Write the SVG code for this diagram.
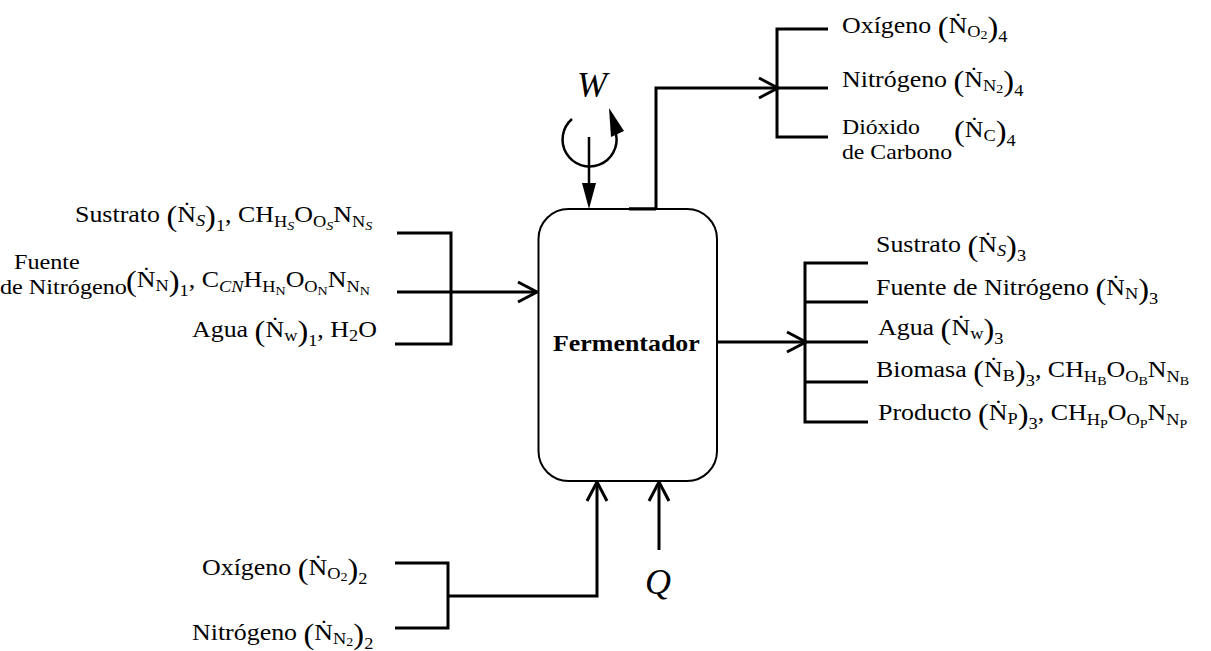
<svg xmlns="http://www.w3.org/2000/svg" width="1211" height="651" viewBox="0 0 1211 651">
<defs>
<style>
text{font-family:"Liberation Serif","DejaVu Serif",serif;fill:#000}
.t{font-size:24px}
.t2{font-size:22px}
.s{font-size:17px}
.ss{font-size:13px}
.p{font-size:30px}
.i{font-style:italic}
.b{font-weight:bold}
.big{font-size:36px;font-style:italic}
.ln{fill:none;stroke:#000;stroke-width:3}
.arr{marker-end:url(#chev)}
.box{fill:#fff;stroke:#000;stroke-width:2}
.thin{fill:none;stroke:#000;stroke-width:2.5}
</style>
<marker id="chev" viewBox="0 0 24 22" refX="21" refY="11" markerWidth="24" markerHeight="22" markerUnits="userSpaceOnUse" orient="auto" overflow="visible">
<path d="M2,1 L21,11 L2,21" fill="none" stroke="#000" stroke-width="3"/>
</marker>
</defs>
<rect width="1211" height="651" fill="#fff"/>

<g id="connectors">
<path class="ln" d="M397,233 H451 V344 H395"/>
<path class="ln arr" d="M397,292 H537"/>
<path class="ln arr" d="M717,342 H806"/>
<path class="ln" d="M868,263 H805 V422 H868 M805,302 H868 M805,342 H868 M805,382 H868"/>
<path class="ln arr" d="M629,209 H656 V88 H778"/>
<path class="ln" d="M828,29 H777 V137 H828 M777,88 H828"/>
<path class="ln" d="M395,563 H448 V628 H395"/>
<path class="ln arr" d="M448,596 H597 V482"/>
<path class="ln arr" d="M659,550 V482"/>
</g>

<g id="fermentador">
<rect class="box" x="538.5" y="209" width="178.5" height="272" rx="30" ry="30"/>
<path class="ln" d="M629,209 H656"/>
<text class="t b" transform="translate(553,351) scale(1.08,1)">Fermentador</text>
</g>

<g id="trabajo">
<text class="big" x="577" y="97">W</text>
<path class="thin" d="M572,119 A27,27 0 1 0 616,134"/>
<polygon points="609,108 624,131 611,137" fill="#000"/>
<path class="thin" d="M589,137 V190"/>
<polygon points="582,183 596,183 589,209" fill="#000"/>
</g>

<g id="calor">
<text class="big" x="645" y="594">Q</text>
</g>

<g id="in-sustrato">
<text class="t" transform="translate(75,222) scale(1.08,1)">Sustrato <tspan class="p" dy="4">(</tspan><tspan dy="-4">Ṅ</tspan><tspan class="s i" dy="4">S</tspan><tspan class="p">)</tspan><tspan class="s" dy="5">1</tspan><tspan dy="-9">, CH</tspan><tspan class="s" dy="5">H</tspan><tspan class="ss i" dy="3">S</tspan><tspan dy="-8">O</tspan><tspan class="s" dy="5">O</tspan><tspan class="ss i" dy="3">S</tspan><tspan dy="-8">N</tspan><tspan class="s" dy="5">N</tspan><tspan class="ss i" dy="3">S</tspan></text>
</g>

<g id="in-nitrogeno">
<text class="t2" transform="translate(14,269) scale(1.1,1)">Fuente</text>
<text class="t2" transform="translate(0,294) scale(1.1,1)">de Nitrógeno</text>
<text class="t" transform="translate(126,287) scale(1.08,1)"><tspan class="p" dy="4">(</tspan><tspan dy="-4">Ṅ</tspan><tspan class="s" dy="4">N</tspan><tspan class="p">)</tspan><tspan class="s" dy="5">1</tspan><tspan dy="-9">, C</tspan><tspan class="s i" dy="5">CN</tspan><tspan dy="-5">H</tspan><tspan class="s" dy="5">H</tspan><tspan class="ss" dy="3">N</tspan><tspan dy="-8">O</tspan><tspan class="s" dy="5">O</tspan><tspan class="ss" dy="3">N</tspan><tspan dy="-8">N</tspan><tspan class="s" dy="5">N</tspan><tspan class="ss" dy="3">N</tspan></text>
</g>

<g id="in-agua">
<text class="t" transform="translate(192,337) scale(1.08,1)">Agua <tspan class="p" dy="4">(</tspan><tspan dy="-4">Ṅ</tspan><tspan class="s" dy="4">w</tspan><tspan class="p">)</tspan><tspan class="s" dy="5">1</tspan><tspan dy="-9">, H</tspan><tspan class="s" dy="4">2</tspan><tspan dy="-4">O</tspan></text>
</g>

<g id="out-oxigeno">
<text class="t" transform="translate(842,33) scale(1.08,1)">Oxígeno <tspan class="p" dy="4">(</tspan><tspan dy="-4">Ṅ</tspan><tspan class="s" dy="4">O</tspan><tspan class="ss" dy="2">2</tspan><tspan class="p" dy="-2">)</tspan><tspan class="s" dy="5">4</tspan></text>
</g>

<g id="out-nitrogeno">
<text class="t" transform="translate(842,87) scale(1.08,1)">Nitrógeno <tspan class="p" dy="4">(</tspan><tspan dy="-4">Ṅ</tspan><tspan class="s" dy="4">N</tspan><tspan class="ss" dy="2">2</tspan><tspan class="p" dy="-2">)</tspan><tspan class="s" dy="5">4</tspan></text>
</g>

<g id="out-co2">
<text class="t2" transform="translate(842,134) scale(1.08,1)">Dióxido</text>
<text class="t2" transform="translate(842,159) scale(1.08,1)">de Carbono</text>
<text class="t" transform="translate(954,137) scale(1.08,1)"><tspan class="p" dy="4">(</tspan><tspan dy="-4">Ṅ</tspan><tspan class="s" dy="4">C</tspan><tspan class="p">)</tspan><tspan class="s" dy="5">4</tspan></text>
</g>

<g id="out-sustrato">
<text class="t" transform="translate(876,252) scale(1.08,1)">Sustrato <tspan class="p" dy="4">(</tspan><tspan dy="-4">Ṅ</tspan><tspan class="s i" dy="4">S</tspan><tspan class="p">)</tspan><tspan class="s" dy="5">3</tspan></text>
</g>

<g id="out-nitrogeno-fuente">
<text class="t" transform="translate(876,295) scale(1.08,1)">Fuente de Nitrógeno <tspan class="p" dy="4">(</tspan><tspan dy="-4">Ṅ</tspan><tspan class="s" dy="4">N</tspan><tspan class="p">)</tspan><tspan class="s" dy="5">3</tspan></text>
</g>

<g id="out-agua">
<text class="t" transform="translate(878,335) scale(1.08,1)">Agua <tspan class="p" dy="4">(</tspan><tspan dy="-4">Ṅ</tspan><tspan class="s" dy="4">w</tspan><tspan class="p">)</tspan><tspan class="s" dy="5">3</tspan></text>
</g>

<g id="out-biomasa">
<text class="t" transform="translate(876,377) scale(1.08,1)">Biomasa <tspan class="p" dy="4">(</tspan><tspan dy="-4">Ṅ</tspan><tspan class="s" dy="4">B</tspan><tspan class="p">)</tspan><tspan class="s" dy="5">3</tspan><tspan dy="-9">, CH</tspan><tspan class="s" dy="5">H</tspan><tspan class="ss" dy="3">B</tspan><tspan dy="-8">O</tspan><tspan class="s" dy="5">O</tspan><tspan class="ss" dy="3">B</tspan><tspan dy="-8">N</tspan><tspan class="s" dy="5">N</tspan><tspan class="ss" dy="3">B</tspan></text>
</g>

<g id="out-producto">
<text class="t" transform="translate(878,420) scale(1.08,1)">Producto <tspan class="p" dy="4">(</tspan><tspan dy="-4">Ṅ</tspan><tspan class="s" dy="4">P</tspan><tspan class="p">)</tspan><tspan class="s" dy="5">3</tspan><tspan dy="-9">, CH</tspan><tspan class="s" dy="5">H</tspan><tspan class="ss" dy="3">P</tspan><tspan dy="-8">O</tspan><tspan class="s" dy="5">O</tspan><tspan class="ss" dy="3">P</tspan><tspan dy="-8">N</tspan><tspan class="s" dy="5">N</tspan><tspan class="ss" dy="3">P</tspan></text>
</g>

<g id="in-oxigeno">
<text class="t" transform="translate(202,575) scale(1.08,1)">Oxígeno <tspan class="p" dy="4">(</tspan><tspan dy="-4">Ṅ</tspan><tspan class="s" dy="4">O</tspan><tspan class="ss" dy="2">2</tspan><tspan class="p" dy="-2">)</tspan><tspan class="s" dy="5">2</tspan></text>
</g>

<g id="in-nitrogeno2">
<text class="t" transform="translate(192,640) scale(1.08,1)">Nitrógeno <tspan class="p" dy="4">(</tspan><tspan dy="-4">Ṅ</tspan><tspan class="s" dy="4">N</tspan><tspan class="ss" dy="2">2</tspan><tspan class="p" dy="-2">)</tspan><tspan class="s" dy="5">2</tspan></text>
</g>
</svg>
